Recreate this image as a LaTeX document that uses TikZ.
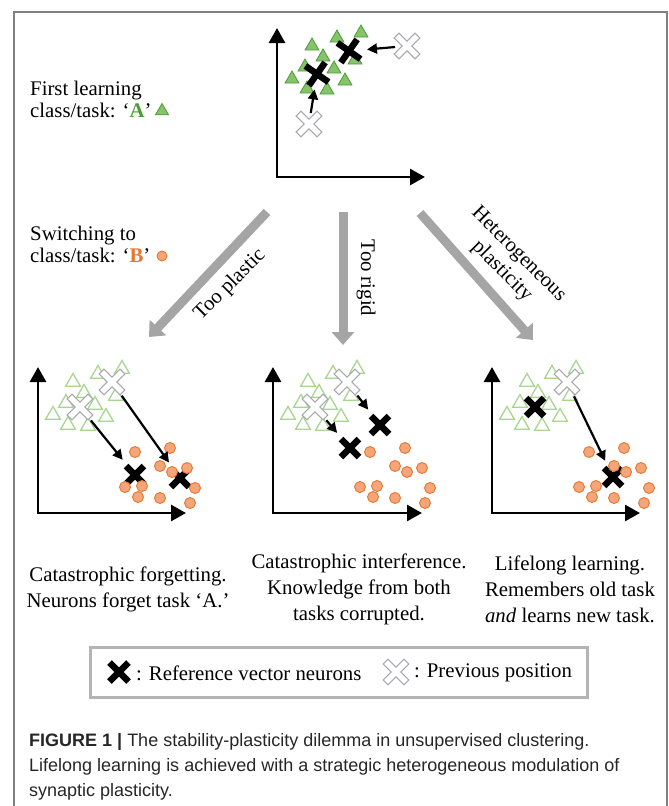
\documentclass[tikz,border=0pt]{standalone}
\usepackage{fontspec}
\setmainfont{Liberation Serif}
\setsansfont{Liberation Sans}
\usetikzlibrary{arrows.meta,shapes.geometric,shapes.misc}
\definecolor{trifill}{HTML}{85C46A}
\definecolor{triline}{HTML}{4E9A3A}
\definecolor{paletri}{HTML}{A8D590}
\definecolor{dotfill}{HTML}{F4A57A}
\definecolor{dotline}{HTML}{E7772F}
\definecolor{oldgray}{HTML}{A8A8AE}
\definecolor{biggray}{HTML}{A5A5A5}
\definecolor{framegray}{HTML}{808080}
\definecolor{boxgray}{HTML}{B4B4B4}
\tikzset{
  tri/.style={regular polygon,regular polygon sides=3,minimum size=16pt,inner sep=0pt,fill=trifill,draw=triline,line width=0.8pt},
  opentri/.style={regular polygon,regular polygon sides=3,minimum size=17pt,inner sep=0pt,fill=white,draw=paletri,line width=1.3pt},
  bdot/.style={circle,minimum size=11pt,inner sep=0pt,fill=dotfill,draw=dotline,line width=0.9pt},
  newx/.style={cross out,draw=black,line width=6.5pt,minimum size=18pt,inner sep=0pt,outer sep=0pt},
  oldx/.style={cross out,draw=oldgray,line width=1.3pt,double=white,double distance=5.5pt,line cap=rect,minimum size=16pt,inner sep=0pt,outer sep=0pt},
  axes/.style={line width=2.8pt,{Triangle[width=16pt,length=15pt]}-{Triangle[width=16pt,length=15pt]}},
  move/.style={line width=2.2pt,-{Triangle[width=10pt,length=10pt]},shorten <=7pt,shorten >=8pt},
  big/.style={line width=9pt,draw=biggray,-{Triangle[width=22pt,length=13pt]}},
  lbl/.style={font=\fontsize{20.8}{22}\selectfont,inner sep=0pt},
  note/.style={font=\fontsize{20.8}{26}\selectfont,inner sep=0pt,align=center},
}
\begin{document}
\begin{tikzpicture}[x=1pt,y=-1pt]
\useasboundingbox (0,0) rectangle (669,806);
\draw[framegray,line width=2pt] (14,806) -- (14,12) -- (667,12) -- (667,806);

\node[lbl,anchor=base west] (first1) at (30,95) {First learning};
\node[lbl,anchor=base west] (first2) at (30,117) {class/task: ‘\textbf{\textcolor{triline}{A}}’};
\node[tri,minimum size=15pt] (first-sym) at (162,111) {};
\node[lbl,anchor=base west] (switch1) at (30,240) {Switching to};
\node[lbl,anchor=base west] (switch2) at (30,262) {class/task: ‘\textbf{\textcolor{dotline}{B}}’};
\node[bdot,minimum size=10pt] (switch-sym) at (162,256) {};

\begin{scope}[shift={(277,177)}]
\coordinate (T-o) at (0,0);
\coordinate (T-y) at (0,-149);
\coordinate (T-x) at (148,0);
\draw[axes] (T-y) -- (T-o) -- (T-x);
\foreach \x/\y [count=\i] in {35/131,60/139,84/144,46/120,28/110,15/98,57/108,68/96,78/117,30/88,50/87} \node[tri] (T-t\i) at (\x,-\y) {};
\node[newx,rotate=10,minimum size=20pt] (T-n1) at (40,-103) {};
\node[newx,rotate=10,minimum size=20pt] (T-n2) at (72,-126) {};
\node[oldx] (T-p1) at (32,-53) {};
\node[oldx] (T-p2) at (130,-131) {};
\draw[move,shorten <=3pt,shorten >=5pt] (T-p1) -- (T-n1);
\draw[move,shorten <=4pt,shorten >=8pt] (T-p2) -- (T-n2);
\end{scope}

\coordinate (plastic-s) at (267,212);
\coordinate (plastic-e) at (149,337);
\coordinate (rigid-s) at (343,212);
\coordinate (rigid-e) at (343,345);
\coordinate (hetero-s) at (420,213);
\coordinate (hetero-e) at (533,340);
\draw[big] (plastic-s) -- (plastic-e);
\draw[big] (rigid-s) -- (rigid-e);
\draw[big] (hetero-s) -- (hetero-e);
\node[lbl,rotate=45] (plastic) at (230,285) {Too plastic};
\node[lbl,rotate=-90] (rigid) at (366,278) {Too rigid};
\node[lbl,rotate=-45,align=center,font=\fontsize{20.8}{23.6}\selectfont] (hetero) at (510,263) {Heterogeneous\\plasticity};

\begin{scope}[shift={(38,513)}]
\coordinate (L-o) at (0,0);
\coordinate (L-y) at (0,-146);
\coordinate (L-x) at (148,0);
\draw[axes] (L-y) -- (L-o) -- (L-x);
\foreach \x/\y [count=\i] in {35/131,60/139,84/144,46/120,28/110,15/98,57/108,68/96,78/117,30/88,50/87} \node[opentri] (L-t\i) at (\x,-\y) {};
\node[oldx] (L-p1) at (42,-106) {};
\node[oldx] (L-p2) at (74,-131) {};
\node[newx] (L-n1) at (97,-38) {};
\node[newx] (L-n2) at (142,-35) {};
\foreach \x/\y [count=\i] in {97/61,132/65,122/47,134/41,149/45,87/26,104/27,100/16,122/15,157/25,152/10} \node[bdot] (L-c\i) at (\x,-\y) {};
\draw[move] (L-p1) -- (L-n1);
\draw[move] (L-p2) -- (L-n2);
\end{scope}

\begin{scope}[shift={(273,513)}]
\coordinate (M-o) at (0,0);
\coordinate (M-y) at (0,-146);
\coordinate (M-x) at (149,0);
\draw[axes] (M-y) -- (M-o) -- (M-x);
\foreach \x/\y [count=\i] in {35/131,60/139,84/144,46/120,28/110,15/98,57/108,68/96,78/117,30/88,50/87} \node[opentri] (M-t\i) at (\x,-\y) {};
\node[oldx] (M-p1) at (42,-106) {};
\node[oldx] (M-p2) at (74,-131) {};
\node[newx] (M-n1) at (77,-65) {};
\node[newx] (M-n2) at (107,-88) {};
\foreach \x/\y [count=\i] in {97/61,132/65,122/47,134/41,149/45,87/26,104/27,100/16,122/15,157/25,152/10} \node[bdot] (M-c\i) at (\x,-\y) {};
\draw[move] (M-p1) -- (M-n1);
\draw[move] (M-p2) -- (M-n2);
\end{scope}

\begin{scope}[shift={(492,513)}]
\coordinate (R-o) at (0,0);
\coordinate (R-y) at (0,-146);
\coordinate (R-x) at (148,0);
\draw[axes] (R-y) -- (R-o) -- (R-x);
\foreach \x/\y [count=\i] in {35/131,60/139,84/144,46/120,28/110,15/98,57/108,68/96,78/117,30/88,50/87} \node[opentri] (R-t\i) at (\x,-\y) {};
\node[newx] (R-n1) at (43,-106) {};
\node[oldx] (R-p2) at (75,-131) {};
\node[newx] (R-n2) at (121,-36) {};
\foreach \x/\y [count=\i] in {97/61,132/65,122/47,134/41,149/45,87/26,104/27,100/16,122/15,157/25,152/10} \node[bdot] (R-c\i) at (\x,-\y) {};
\draw[move] (R-p2) -- (R-n2);
\end{scope}

\node[note] (forget) at (128,589) {Catastrophic forgetting.\\Neurons forget task ‘A.’};
\node[note] (interf) at (359,589) {Catastrophic interference.\\Knowledge from both\\tasks corrupted.};
\node[note] (lifelong) at (570,589) {Lifelong learning.\\Remembers old task\\\emph{and} learns new task.};

\node[draw=boxgray,line width=3pt,minimum width=497pt,minimum height=50pt,inner sep=0pt] (legend) at (338.5,672) {};
\node[newx,minimum size=19pt] (key-new) at (119,672) {};
\node[lbl,anchor=west] (key-new-txt) at (136,673) {: Reference vector neurons};
\node[oldx] (key-old) at (396,672) {};
\node[lbl,anchor=west] (key-old-txt) at (414,673) {: Previous position};

\node[anchor=north west,align=left,inner sep=0pt,text=black!85,font=\sffamily\fontsize{18}{25}\selectfont] (caption) at (29,733) {\textbf{FIGURE 1 |} The stability-plasticity dilemma in unsupervised clustering.\\Lifelong learning is achieved with a strategic heterogeneous modulation of\\synaptic plasticity.};
\end{tikzpicture}
\end{document}
